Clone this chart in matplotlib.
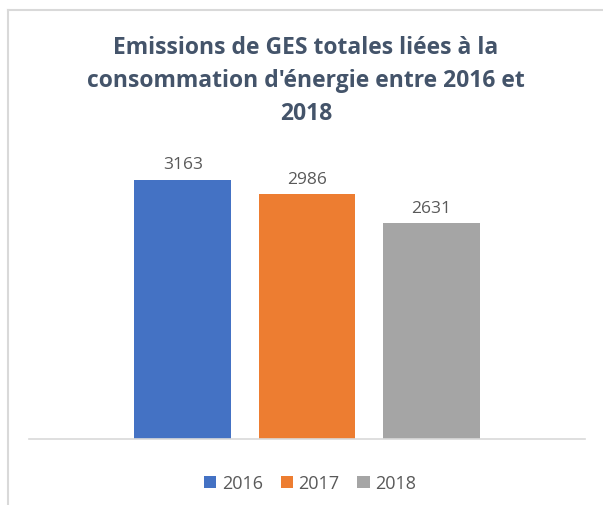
import matplotlib
matplotlib.use("Agg")
import matplotlib.pyplot as plt
from matplotlib.lines import Line2D

years = ["2016", "2017", "2018"]
emissions = [3163, 2986, 2631]
colors = ["#4472C4", "#ED7D31", "#A5A5A5"]
title = "Emissions de GES totales liées à la\nconsommation d'énergie entre 2016 et\n2018"

plt.rcParams['font.family'] = ['Open Sans', 'DejaVu Sans']

fig = plt.figure(figsize=(6.03, 5.06), dpi=100)
W, H = 603, 506
ax = fig.add_axes([29 / W, 1 - 440 / H, (585 - 29) / W, (440 - 153) / H])

x = list(range(len(years)))
bars = ax.bar(x, emissions, width=0.78, color=colors, zorder=2)
for xi, v in zip(x, emissions):
    ax.text(xi, v + 90, str(v), ha="center", va="bottom", fontsize=12.5, color="#595959")

ax.set_xlim(-1.24, 3.24)
ax.set_ylim(0, 3500)
ax.set_xticks([])
ax.set_yticks([])
for s in ["top", "right", "left"]:
    ax.spines[s].set_visible(False)
ax.spines["bottom"].set_color("#D9D9D9")
ax.spines["bottom"].set_linewidth(1.2)

fig.text(306 / W, 1 - 81 / H, title, ha="center", va="center", fontsize=16.5,
         fontweight="bold", color="#44546A", linespacing=1.5)

# outer frame (left and top only)
fig.add_artist(Line2D([7.5 / W, 7.5 / W], [0, 1 - 11 / H], transform=fig.transFigure,
                      color="#D9D9D9", lw=1.5))
fig.add_artist(Line2D([7.5 / W, 1], [1 - 11 / H, 1 - 11 / H], transform=fig.transFigure,
                      color="#D9D9D9", lw=1.5))

ax.legend(bars, years, loc="center", bbox_to_anchor=(310 / W, 1 - 484 / H),
          bbox_transform=fig.transFigure, ncol=3, frameon=False, fontsize=13,
          handlelength=0.67, handleheight=0.67, handletextpad=0.3, columnspacing=1.0,
          labelcolor="#595959")

fig.savefig("out.png", dpi=100)
